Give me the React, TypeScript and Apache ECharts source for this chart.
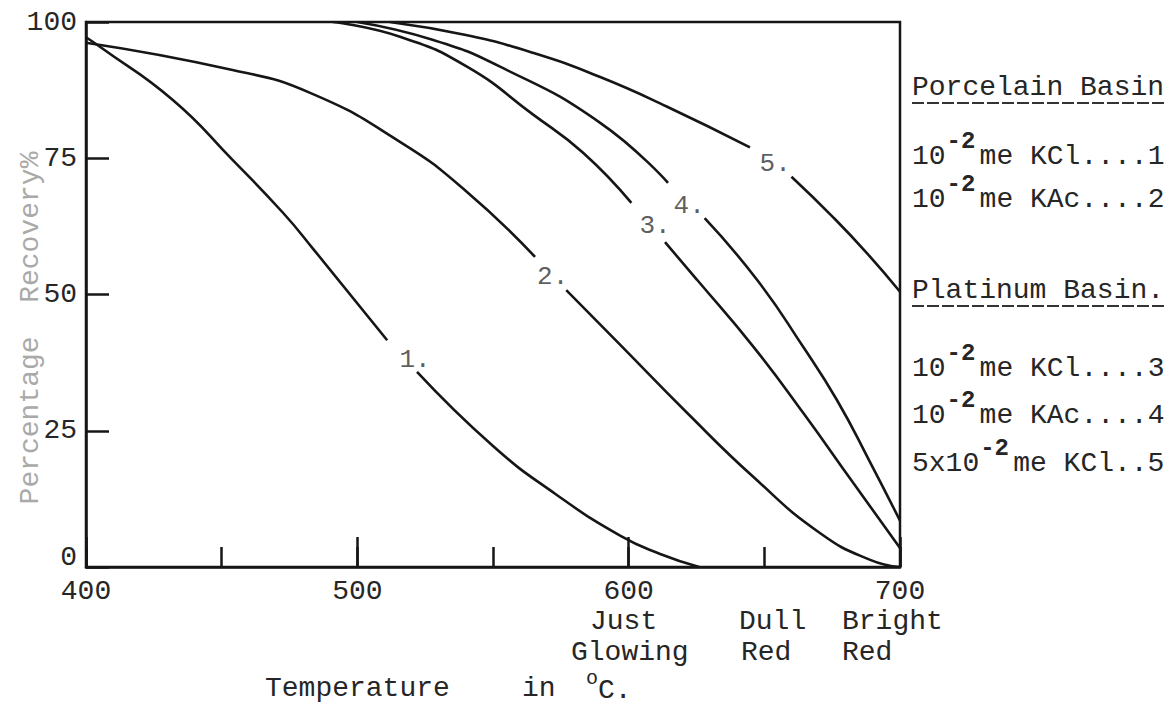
import React, { useEffect, useRef } from "react";
import * as echarts from "echarts";

const FONT = "'Liberation Mono', 'DejaVu Sans Mono', monospace";

// Temperature (°C), percentage recovery. Each curve is split where its label sits.
const curve1Upper = [[400, 97.2], [405, 95.5], [432, 85.7], [454, 74.7], [472.6, 65], [484, 58.2], [511, 41.6]];
const curve1Lower = [[522, 35.8], [550, 22.2], [573, 13.4], [597, 5.7], [611.6, 2.4], [626, 0]];
const curve2Upper = [[400, 96.2], [454, 91.2], [482.6, 87], [515.7, 78], [540, 69], [565.5, 56.9]];
const curve2Lower = [[577, 50.8], [597, 40.7], [621.5, 28.3], [646, 16.5], [670.6, 6.2], [689, 1.3], [700, 0]];
const curve3Upper = [[491, 100], [515.7, 97.3], [540.4, 91.8], [564.8, 83], [583.2, 76], [601, 66.8]];
const curve3Lower = [[613.4, 59.6], [625.2, 52.7], [646, 40.4], [664.3, 28.3], [682.8, 15.4], [700, 3.5]];
const curve4Upper = [[500, 100], [528, 96.7], [552.6, 91.8], [589.5, 81.5], [614.5, 70.5]];
const curve4Lower = [[628, 64], [647.3, 52.7], [664.3, 40.4], [676.8, 30.6], [689, 19.2], [700, 8.5]];
const curve5Upper = [[512, 100], [540, 97.6], [565, 94.3], [589.5, 89.9], [614, 84.5], [644.7, 77]];
const curve5Lower = [[660, 71.6], [675.3, 64.2], [687.8, 57.6], [700, 50.5]];

const curveLabels = [
  { name: "1.", value: [521.3, 38] },
  { name: "2.", value: [572, 53.2] },
  { name: "3.", value: [609.7, 62.6] },
  { name: "4.", value: [622.3, 66.2] },
  { name: "5.", value: [654, 74] },
];

const legendHeaders = [
  { text: "Porcelain Basin", y: 87, uy: 103 },
  { text: "Platinum Basin.", y: 290, uy: 306 },
];
const legendEntries = [
  { pre: "10", sup: "-2", post: "me KCl....1", y: 156 },
  { pre: "10", sup: "-2", post: "me KAc....2", y: 199 },
  { pre: "10", sup: "-2", post: "me KCl....3", y: 368 },
  { pre: "10", sup: "-2", post: "me KAc....4", y: 415 },
  { pre: "5x10", sup: "-2", post: "me KCl..5", y: 463 },
];

const colourNotes = [
  { text: "Just", x: 590, y: 621 },
  { text: "Glowing", x: 571, y: 652 },
  { text: "Dull", x: 739, y: 621 },
  { text: "Red", x: 741, y: 652 },
  { text: "Bright", x: 842, y: 621 },
  { text: "Red", x: 842, y: 652 },
];

const INK = "#161616";
const TXT = "#262626";

function curve(data: number[][]) {
  return {
    type: "line",
    data,
    smooth: 0.5,
    symbol: "none",
    showSymbol: false,
    silent: true,
    lineStyle: { color: INK, width: 2.6 },
    z: 3,
  };
}

export default function App() {
  const ref = useRef<HTMLDivElement>(null);
  useEffect(() => {
    if (!ref.current) return;
    const chart = echarts.init(ref.current, undefined, { renderer: "svg" });
    const font = `28px ${FONT}`;
    const X0 = 912;
    const ADV = 16.8;
    const graphic: any[] = [];
    legendHeaders.forEach((h) => {
      graphic.push({ type: "text", x: X0, y: h.y, style: { text: h.text, font, fill: TXT, align: "left", verticalAlign: "middle" } });
      graphic.push({ type: "line", shape: { x1: X0, y1: h.uy, x2: 1166, y2: h.uy }, style: { stroke: "#333", lineWidth: 2, lineDash: [12, 3] } });
    });
    legendEntries.forEach((e) => {
      const supX = X0 + e.pre.length * ADV + 1;
      const postX = supX + 33;
      graphic.push({ type: "text", x: X0, y: e.y, style: { text: e.pre, font, fill: TXT, align: "left", verticalAlign: "middle" } });
      graphic.push({ type: "text", x: supX, y: e.y - 15, style: { text: e.sup, font: `bold 24px ${FONT}`, fill: TXT, align: "left", verticalAlign: "middle" } });
      graphic.push({ type: "text", x: postX, y: e.y, style: { text: e.post, font, fill: TXT, align: "left", verticalAlign: "middle" } });
    });
    colourNotes.forEach((n) => {
      graphic.push({ type: "text", x: n.x, y: n.y, style: { text: n.text, font, fill: TXT, align: "left", verticalAlign: "middle" } });
    });
    graphic.push({ type: "text", x: 265, y: 688, style: { text: "Temperature", font, fill: TXT, align: "left", verticalAlign: "middle" } });
    graphic.push({ type: "text", x: 522, y: 688, style: { text: "in", font, fill: TXT, align: "left", verticalAlign: "middle" } });
    graphic.push({ type: "text", x: 586, y: 678, style: { text: "o", font: `20px ${FONT}`, fill: TXT, align: "left", verticalAlign: "middle" } });
    graphic.push({ type: "text", x: 598, y: 690, style: { text: "C.", font, fill: TXT, align: "left", verticalAlign: "middle" } });
    graphic.push({
      type: "text", x: 30, y: 328, rotation: Math.PI / 2,
      style: { text: "Percentage  Recovery%", font, fill: "#a9a9a9", align: "center", verticalAlign: "middle" },
    });

    chart.setOption({
      animation: false,
      backgroundColor: "#ffffff",
      grid: { left: 86, right: 270, top: 22, bottom: 138, show: true, borderColor: INK, borderWidth: 2.5, backgroundColor: "transparent" },
      xAxis: [
        {
          type: "value", min: 400, max: 700, interval: 50,
          axisLine: { show: true, lineStyle: { color: INK, width: 2.5 } },
          axisTick: { show: true, inside: true, length: 20, lineStyle: { color: INK, width: 2.5 } },
          axisLabel: { fontFamily: FONT, fontSize: 28, color: TXT, margin: 10, formatter: (v: number) => (v % 100 === 0 ? String(v) : "") },
          splitLine: { show: false },
        },
        {
          type: "value", min: 400, max: 700, interval: 100, position: "bottom",
          axisLine: { show: false },
          axisTick: { show: true, inside: true, length: 30, lineStyle: { color: INK, width: 2.5 } },
          axisLabel: { show: false },
          splitLine: { show: false },
        },
      ],
      yAxis: {
        type: "value", min: 0, max: 100, interval: 25,
        axisLine: { show: true, lineStyle: { color: INK, width: 2.5 } },
        axisTick: { show: true, inside: true, length: 23, lineStyle: { color: INK, width: 2.5 } },
        axisLabel: {
          fontFamily: FONT, fontSize: 28, color: TXT, margin: 9,
          formatter: (v: number) => (v === 0 ? "{z|0}" : String(v)),
          rich: { z: { fontFamily: FONT, fontSize: 28, color: TXT, padding: [0, 0, 20, 0] } },
        },
        splitLine: { show: false },
      },
      series: [
        curve(curve1Upper), curve(curve1Lower),
        curve(curve2Upper), curve(curve2Lower),
        curve(curve3Upper), curve(curve3Lower),
        curve(curve4Upper), curve(curve4Lower),
        curve(curve5Upper), curve(curve5Lower),
        {
          type: "scatter",
          data: curveLabels,
          symbolSize: 0,
          silent: true,
          label: { show: true, position: "inside", formatter: "{b}", fontFamily: FONT, fontSize: 26, color: "#333333" },
          z: 4,
        },
      ],
      graphic,
    });
    return () => chart.dispose();
  }, []);
  return <div ref={ref} style={{ position: "fixed", left: 0, top: 0, width: 1170, height: 705, background: "#fff" }} />;
}
